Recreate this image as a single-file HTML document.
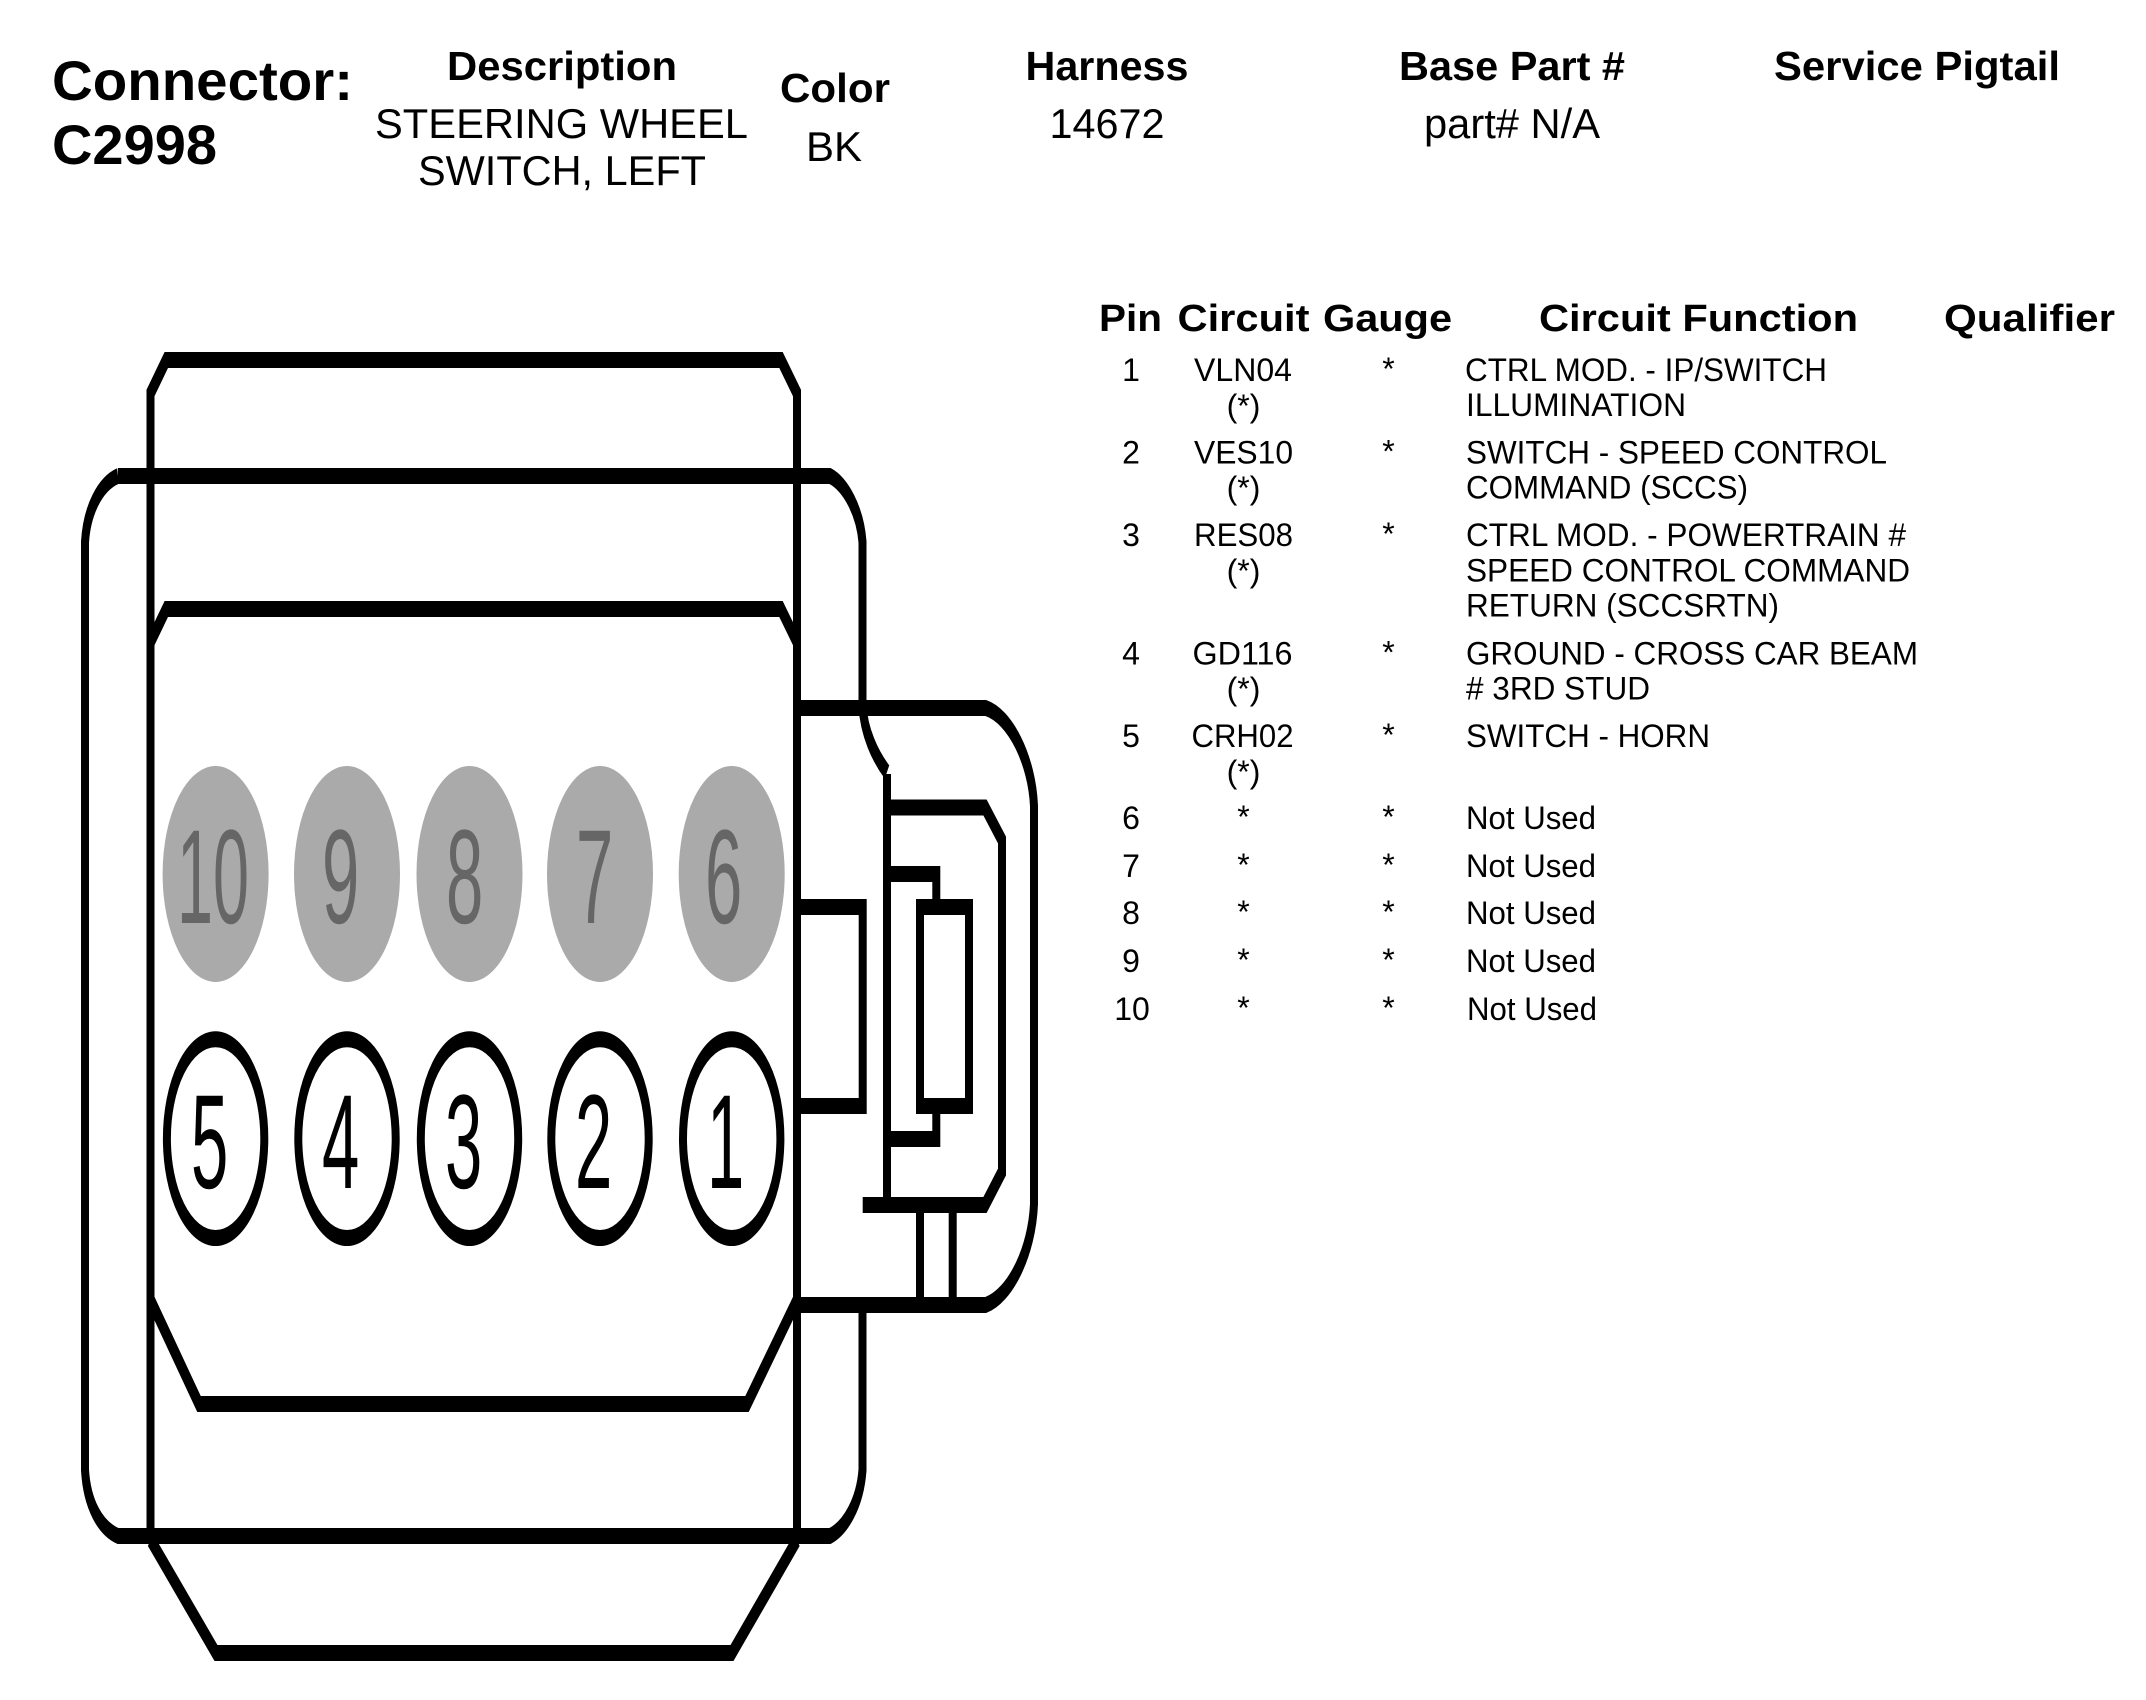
<!DOCTYPE html>
<html><head><meta charset="utf-8"><style>
html,body{margin:0;padding:0;background:#fff}
svg{display:block}
text{font-family:"Liberation Sans",sans-serif;fill:#000}
.b{font-weight:bold}
.h{font-size:41px;font-weight:bold}
.r{font-size:42px}
.t{font-size:38px;font-weight:bold}
.c{font-size:32px}
.m{text-anchor:middle}
</style></head><body>
<svg width="2146" height="1700" viewBox="0 0 2146 1700" xmlns="http://www.w3.org/2000/svg">
<rect width="2146" height="1700" fill="#fff"/>
<g transform="scale(1,2)" fill="none" stroke="#000" stroke-width="8">
<path d="M150.5 770V196.5L166.3 180H781L797 196.5V770"/>
<path d="M118 238C100 242 87 255 85 271V735C87 752 100 764 118 768H830C845 764 860 752 862.5 735V655.5"/>
<path d="M118 238H830C845 242 860 255 862.5 271V353C864 366 875 378 887 386"/>
<path d="M150.5 321L166.3 304.5H781L797 321"/>
<path d="M150.5 650L199 702H747L797 650"/>
<path d="M150.5 770L216 826.5H732L797 770"/>
<path d="M797 354H985.7C1010 358 1032 380 1034 403V602C1032 626 1010 648 985.7 652.5H797"/>
<path d="M797 453.5H862.7V553H797"/>
<path d="M887 387V602.5"/>
<path d="M862.7 602.5H985L1002 586V420L985 403.75H887"/>
<path d="M887 437H936.3V453.5"/>
<path d="M887 569.5H936.3V552.75"/>
<rect x="920" y="453.5" width="49" height="99.5"/>
<path d="M920 602V652M952.7 602V652"/>
<g fill="#aaa" stroke="none">
<ellipse cx="215.6" cy="437" rx="53" ry="54"/>
<ellipse cx="347" cy="437" rx="53" ry="54"/>
<ellipse cx="469.5" cy="437" rx="53" ry="54"/>
<ellipse cx="600" cy="437" rx="53" ry="54"/>
<ellipse cx="731.7" cy="437" rx="53" ry="54"/>
</g>
<ellipse cx="215.6" cy="569.3" rx="48.7" ry="49.7"/>
<ellipse cx="347" cy="569.3" rx="48.7" ry="49.7"/>
<ellipse cx="469.5" cy="569.3" rx="48.7" ry="49.7"/>
<ellipse cx="600" cy="569.3" rx="48.7" ry="49.7"/>
<ellipse cx="731.7" cy="569.3" rx="48.7" ry="49.7"/>
<g stroke="none" font-size="67" font-family="Liberation Sans, sans-serif">
<text x="177" y="461.5" style="fill:#666" textLength="72" lengthAdjust="spacingAndGlyphs">10</text>
<text x="322" y="461.5" style="fill:#666">9</text>
<text x="446" y="461.5" style="fill:#666">8</text>
<text x="576" y="461.5" style="fill:#666">7</text>
<text x="705" y="461.5" style="fill:#666">6</text>
<text x="191" y="594">5</text>
<text x="322" y="594">4</text>
<text x="445" y="594">3</text>
<text x="575" y="594">2</text>
<text x="707" y="594">1</text>
</g>
</g>

<text x="52" y="100" font-size="56" class="b" textLength="301" lengthAdjust="spacingAndGlyphs">Connector:</text>
<text x="52" y="164" font-size="56" class="b" textLength="165" lengthAdjust="spacingAndGlyphs">C2998</text>

<text x="447" y="80" class="h" textLength="230" lengthAdjust="spacingAndGlyphs">Description</text>
<text x="780" y="102" class="h" textLength="110" lengthAdjust="spacingAndGlyphs">Color</text>
<text x="1025.5" y="80" class="h" textLength="163" lengthAdjust="spacingAndGlyphs">Harness</text>
<text x="1399" y="80" class="h" textLength="226" lengthAdjust="spacingAndGlyphs">Base Part #</text>
<text x="1774" y="80" class="h" textLength="286" lengthAdjust="spacingAndGlyphs">Service Pigtail</text>

<text x="375" y="138" class="r" textLength="373" lengthAdjust="spacingAndGlyphs">STEERING WHEEL</text>
<text x="418" y="185" class="r" textLength="288" lengthAdjust="spacingAndGlyphs">SWITCH, LEFT</text>
<text x="806" y="161" class="r" textLength="56" lengthAdjust="spacingAndGlyphs">BK</text>
<text x="1049.5" y="138" class="r" textLength="115" lengthAdjust="spacingAndGlyphs">14672</text>
<text x="1424" y="138" class="r" textLength="176" lengthAdjust="spacingAndGlyphs">part# N/A</text>

<text x="1099" y="331" class="t" textLength="63" lengthAdjust="spacingAndGlyphs">Pin</text>
<text x="1177.5" y="331" class="t" textLength="132" lengthAdjust="spacingAndGlyphs">Circuit</text>
<text x="1323" y="331" class="t" textLength="129" lengthAdjust="spacingAndGlyphs">Gauge</text>
<text x="1539" y="331" class="t" textLength="319" lengthAdjust="spacingAndGlyphs">Circuit Function</text>
<text x="1944" y="331" class="t" textLength="171" lengthAdjust="spacingAndGlyphs">Qualifier</text>

<g class="c">
<text class="c m" x="1131" y="381">1</text>
<text class="c m" x="1131" y="463.5">2</text>
<text class="c m" x="1131" y="546">3</text>
<text class="c m" x="1131" y="664.5">4</text>
<text class="c m" x="1131" y="747">5</text>
<text class="c m" x="1131" y="829">6</text>
<text class="c m" x="1131" y="877">7</text>
<text class="c m" x="1131" y="924">8</text>
<text class="c m" x="1131" y="972">9</text>
<text class="c m" x="1132" y="1020">10</text>

<text class="c" x="1194" y="381" textLength="98" lengthAdjust="spacingAndGlyphs">VLN04</text>
<text class="c" x="1194" y="463.5" textLength="99" lengthAdjust="spacingAndGlyphs">VES10</text>
<text class="c" x="1194" y="546" textLength="99" lengthAdjust="spacingAndGlyphs">RES08</text>
<text class="c" x="1192.5" y="664.5" textLength="100" lengthAdjust="spacingAndGlyphs">GD116</text>
<text class="c" x="1191.5" y="747" textLength="102" lengthAdjust="spacingAndGlyphs">CRH02</text>
<text class="c m" x="1249" y="417" transform="translate(-5.5 0)">(*)</text>
<text class="c m" x="1249" y="499" transform="translate(-5.5 0)">(*)</text>
<text class="c m" x="1249" y="582" transform="translate(-5.5 0)">(*)</text>
<text class="c m" x="1249" y="700" transform="translate(-5.5 0)">(*)</text>
<text class="c m" x="1249" y="783" transform="translate(-5.5 0)">(*)</text>
<text class="c m" x="1243.5" y="828">*</text>
<text class="c m" x="1243.5" y="876">*</text>
<text class="c m" x="1243.5" y="923">*</text>
<text class="c m" x="1243.5" y="971">*</text>
<text class="c m" x="1243.5" y="1019">*</text>

<text class="c m" x="1388.5" y="380">*</text>
<text class="c m" x="1388.5" y="462.5">*</text>
<text class="c m" x="1388.5" y="545">*</text>
<text class="c m" x="1388.5" y="663.5">*</text>
<text class="c m" x="1388.5" y="746">*</text>
<text class="c m" x="1388.5" y="828">*</text>
<text class="c m" x="1388.5" y="876">*</text>
<text class="c m" x="1388.5" y="923">*</text>
<text class="c m" x="1388.5" y="971">*</text>
<text class="c m" x="1388.5" y="1019">*</text>

<text class="c" x="1465" y="381" textLength="362" lengthAdjust="spacingAndGlyphs">CTRL MOD. - IP/SWITCH</text>
<text class="c" x="1466" y="416" textLength="220" lengthAdjust="spacingAndGlyphs">ILLUMINATION</text>
<text class="c" x="1466" y="463.5" textLength="421" lengthAdjust="spacingAndGlyphs">SWITCH - SPEED CONTROL</text>
<text class="c" x="1466" y="498.5" textLength="282" lengthAdjust="spacingAndGlyphs">COMMAND (SCCS)</text>
<text class="c" x="1466" y="546" textLength="440" lengthAdjust="spacingAndGlyphs">CTRL MOD. - POWERTRAIN #</text>
<text class="c" x="1466" y="581.5" textLength="444" lengthAdjust="spacingAndGlyphs">SPEED CONTROL COMMAND</text>
<text class="c" x="1466" y="616.5" textLength="313" lengthAdjust="spacingAndGlyphs">RETURN (SCCSRTN)</text>
<text class="c" x="1466" y="664.5" textLength="452" lengthAdjust="spacingAndGlyphs">GROUND - CROSS CAR BEAM</text>
<text class="c" x="1466" y="699.5" textLength="184" lengthAdjust="spacingAndGlyphs"># 3RD STUD</text>
<text class="c" x="1466" y="747" textLength="244" lengthAdjust="spacingAndGlyphs">SWITCH - HORN</text>
<text class="c" x="1466" y="829" textLength="130" lengthAdjust="spacingAndGlyphs">Not Used</text>
<text class="c" x="1466" y="877" textLength="130" lengthAdjust="spacingAndGlyphs">Not Used</text>
<text class="c" x="1466" y="924" textLength="130" lengthAdjust="spacingAndGlyphs">Not Used</text>
<text class="c" x="1466" y="972" textLength="130" lengthAdjust="spacingAndGlyphs">Not Used</text>
<text class="c" x="1467" y="1020" textLength="130" lengthAdjust="spacingAndGlyphs">Not Used</text>
</g>
</svg>
</body></html>
